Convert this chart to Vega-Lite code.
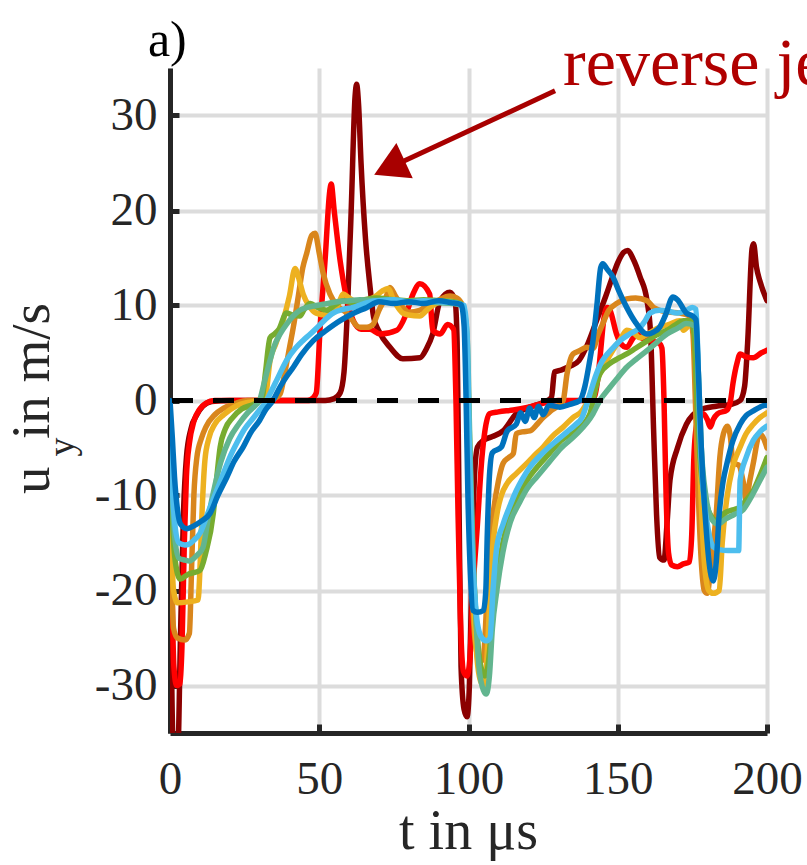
{
  "$schema": "https://vega.github.io/schema/vega-lite/v6.json",
  "width": 597,
  "height": 665,
  "padding": {"left": 170, "top": 68, "right": 40, "bottom": 132},
  "autosize": {"type": "none"},
  "background": "white",
  "config": {"view": {"stroke": null}, "font": "Liberation Serif", "axis": {"labelFont": "Liberation Serif", "titleFont": "Liberation Serif"}},
  "datasets": {
    "curves": [
      {"s":"DR","t":0,"u":-2},{"s":"DR","t":0.6,"u":-30},{"s":"DR","t":1.2,"u":-37},{"s":"DR","t":2.6,"u":-37},{"s":"DR","t":3.5,"u":-25},{"s":"DR","t":4.5,"u":-12},{"s":"DR","t":5.5,"u":-6},{"s":"DR","t":7,"u":-3},{"s":"DR","t":9,"u":-1.5},{"s":"DR","t":11,"u":-0.6},{"s":"DR","t":14,"u":-0.1},{"s":"DR","t":20,"u":0},{"s":"DR","t":52,"u":0},{"s":"DR","t":55,"u":0.2},{"s":"DR","t":57,"u":0.8},{"s":"DR","t":58.3,"u":3},{"s":"DR","t":59.5,"u":10},{"s":"DR","t":60.7,"u":20},{"s":"DR","t":62,"u":32},{"s":"DR","t":62.5,"u":33.3},{"s":"DR","t":63.2,"u":31},{"s":"DR","t":64,"u":25},{"s":"DR","t":65.5,"u":17},{"s":"DR","t":67,"u":12},{"s":"DR","t":68.2,"u":8.8},{"s":"DR","t":70,"u":7.3},{"s":"DR","t":73.7,"u":5.6},{"s":"DR","t":78,"u":4.4},{"s":"DR","t":83.7,"u":4.5},{"s":"DR","t":86,"u":5.5},{"s":"DR","t":88,"u":7},{"s":"DR","t":90.5,"u":10.5},{"s":"DR","t":93.8,"u":11.4},{"s":"DR","t":95.5,"u":10.5},{"s":"DR","t":96.2,"u":6},{"s":"DR","t":96.8,"u":-10},{"s":"DR","t":97.5,"u":-28},{"s":"DR","t":98.5,"u":-32.5},{"s":"DR","t":99.5,"u":-33.3},{"s":"DR","t":100.3,"u":-30},{"s":"DR","t":101,"u":-20},{"s":"DR","t":102,"u":-8},{"s":"DR","t":103,"u":-4.9},{"s":"DR","t":105,"u":-4.2},{"s":"DR","t":108,"u":-3.8},{"s":"DR","t":111.6,"u":-3.2},{"s":"DR","t":116,"u":-1.4},{"s":"DR","t":120.6,"u":-0.7},{"s":"DR","t":125,"u":-0.2},{"s":"DR","t":127.8,"u":0.3},{"s":"DR","t":128.8,"u":3},{"s":"DR","t":131,"u":3.2},{"s":"DR","t":134,"u":3.6},{"s":"DR","t":137,"u":4.2},{"s":"DR","t":140,"u":6},{"s":"DR","t":143,"u":8.5},{"s":"DR","t":146,"u":11},{"s":"DR","t":148,"u":12.8},{"s":"DR","t":150,"u":14.5},{"s":"DR","t":152,"u":15.6},{"s":"DR","t":153.4,"u":15.8},{"s":"DR","t":155,"u":15},{"s":"DR","t":157.5,"u":13},{"s":"DR","t":159.8,"u":10.5},{"s":"DR","t":161,"u":7},{"s":"DR","t":162,"u":-3},{"s":"DR","t":163,"u":-12},{"s":"DR","t":164,"u":-16.5},{"s":"DR","t":165.5,"u":-16.8},{"s":"DR","t":166.5,"u":-13},{"s":"DR","t":167.5,"u":-8.4},{"s":"DR","t":170,"u":-5},{"s":"DR","t":173,"u":-2.5},{"s":"DR","t":177.5,"u":-1},{"s":"DR","t":183,"u":-0.6},{"s":"DR","t":188,"u":-0.4},{"s":"DR","t":191,"u":0},{"s":"DR","t":192.5,"u":1.5},{"s":"DR","t":193.5,"u":6},{"s":"DR","t":195,"u":16},{"s":"DR","t":195.5,"u":16.5},{"s":"DR","t":196.5,"u":14},{"s":"DR","t":197.6,"u":12.6},{"s":"DR","t":200,"u":10.5},

      {"s":"R","t":0,"u":-2},{"s":"R","t":0.7,"u":-20},{"s":"R","t":1.3,"u":-28},{"s":"R","t":2.2,"u":-30},{"s":"R","t":3.4,"u":-29.8},{"s":"R","t":4,"u":-26},{"s":"R","t":4.8,"u":-15},{"s":"R","t":5.5,"u":-8},{"s":"R","t":6.5,"u":-4.5},{"s":"R","t":8,"u":-2.2},{"s":"R","t":10,"u":-0.9},{"s":"R","t":12,"u":-0.3},{"s":"R","t":15,"u":0},{"s":"R","t":46,"u":0},{"s":"R","t":48,"u":0.3},{"s":"R","t":49,"u":0.8},{"s":"R","t":50.3,"u":7.7},{"s":"R","t":52,"u":15},{"s":"R","t":53.5,"u":22},{"s":"R","t":54,"u":22.8},{"s":"R","t":55,"u":20},{"s":"R","t":57,"u":14.7},{"s":"R","t":59,"u":11},{"s":"R","t":61.4,"u":8.4},{"s":"R","t":64,"u":7.5},{"s":"R","t":67,"u":7.5},{"s":"R","t":70.4,"u":7},{"s":"R","t":76,"u":7.4},{"s":"R","t":79,"u":9},{"s":"R","t":81.4,"u":11.2},{"s":"R","t":83.7,"u":12.3},{"s":"R","t":87,"u":11.2},{"s":"R","t":88,"u":7.4},{"s":"R","t":90.5,"u":7},{"s":"R","t":93,"u":8},{"s":"R","t":95,"u":7.5},{"s":"R","t":95.8,"u":0},{"s":"R","t":96.5,"u":-12},{"s":"R","t":97.3,"u":-23},{"s":"R","t":98.3,"u":-28.5},{"s":"R","t":99.5,"u":-29},{"s":"R","t":100.5,"u":-27},{"s":"R","t":101.5,"u":-20},{"s":"R","t":103,"u":-13},{"s":"R","t":104.5,"u":-6},{"s":"R","t":105.5,"u":-3.2},{"s":"R","t":107,"u":-1.4},{"s":"R","t":110,"u":-1.2},{"s":"R","t":115,"u":-1},{"s":"R","t":120,"u":-0.7},{"s":"R","t":125,"u":-0.3},{"s":"R","t":130,"u":0},{"s":"R","t":141,"u":0},{"s":"R","t":142.3,"u":0.5},{"s":"R","t":143.2,"u":2},{"s":"R","t":144.2,"u":5},{"s":"R","t":145.3,"u":8.5},{"s":"R","t":146.5,"u":9.8},{"s":"R","t":147.4,"u":9.5},{"s":"R","t":149.6,"u":7},{"s":"R","t":151,"u":6},{"s":"R","t":153,"u":5.6},{"s":"R","t":155,"u":6.5},{"s":"R","t":156.4,"u":7},{"s":"R","t":158,"u":6.6},{"s":"R","t":160.8,"u":6.3},{"s":"R","t":164,"u":6},{"s":"R","t":164.8,"u":5.5},{"s":"R","t":165.5,"u":0},{"s":"R","t":166.2,"u":-10},{"s":"R","t":167,"u":-16},{"s":"R","t":168,"u":-17.3},{"s":"R","t":170,"u":-17.5},{"s":"R","t":172,"u":-17.2},{"s":"R","t":174,"u":-17},{"s":"R","t":174.8,"u":-14},{"s":"R","t":175.5,"u":-6},{"s":"R","t":176.5,"u":-2.5},{"s":"R","t":178.6,"u":-1.4},{"s":"R","t":180,"u":-2},{"s":"R","t":181,"u":-2.8},{"s":"R","t":182,"u":-2},{"s":"R","t":183.4,"u":-1.4},{"s":"R","t":186.6,"u":-1},{"s":"R","t":187.8,"u":0},{"s":"R","t":188.6,"u":1.8},{"s":"R","t":190,"u":4},{"s":"R","t":191,"u":4.9},{"s":"R","t":193,"u":4.6},{"s":"R","t":195.4,"u":4.5},{"s":"R","t":198,"u":5},{"s":"R","t":200,"u":5.3},

      {"s":"O","t":0,"u":-1},{"s":"O","t":0.6,"u":-18},{"s":"O","t":1.2,"u":-24},{"s":"O","t":2.5,"u":-25},{"s":"O","t":5,"u":-25.2},{"s":"O","t":6.5,"u":-24.5},{"s":"O","t":7.2,"u":-18},{"s":"O","t":8,"u":-10},{"s":"O","t":9,"u":-6},{"s":"O","t":10.5,"u":-4},{"s":"O","t":12,"u":-2.8},{"s":"O","t":15,"u":-1.5},{"s":"O","t":18,"u":-0.8},{"s":"O","t":22,"u":-0.3},{"s":"O","t":26,"u":0},{"s":"O","t":34,"u":0},{"s":"O","t":35.5,"u":0.3},{"s":"O","t":36.9,"u":0.7},{"s":"O","t":38.5,"u":3},{"s":"O","t":40,"u":5.5},{"s":"O","t":41.3,"u":7.7},{"s":"O","t":43,"u":11},{"s":"O","t":44.5,"u":14},{"s":"O","t":45.8,"u":15.5},{"s":"O","t":47.5,"u":17.4},{"s":"O","t":48.6,"u":17.6},{"s":"O","t":50,"u":15.5},{"s":"O","t":51.3,"u":13.4},{"s":"O","t":53.6,"u":11.2},{"s":"O","t":56,"u":10},{"s":"O","t":59.3,"u":9.2},{"s":"O","t":63.6,"u":7.7},{"s":"O","t":66,"u":7.7},{"s":"O","t":68,"u":8},{"s":"O","t":70,"u":9.5},{"s":"O","t":72.5,"u":11},{"s":"O","t":73.7,"u":11.9},{"s":"O","t":75.5,"u":11},{"s":"O","t":78,"u":9.8},{"s":"O","t":80,"u":9.3},{"s":"O","t":83.7,"u":9.5},{"s":"O","t":86,"u":10},{"s":"O","t":89.4,"u":10.5},{"s":"O","t":93.8,"u":11},{"s":"O","t":96,"u":10.8},{"s":"O","t":98,"u":10},{"s":"O","t":99,"u":6},{"s":"O","t":99.8,"u":-5},{"s":"O","t":100.6,"u":-15},{"s":"O","t":101.5,"u":-22},{"s":"O","t":102.5,"u":-26},{"s":"O","t":104,"u":-27.5},{"s":"O","t":105,"u":-27},{"s":"O","t":106,"u":-22},{"s":"O","t":107,"u":-16},{"s":"O","t":108,"u":-12.6},{"s":"O","t":110,"u":-8.5},{"s":"O","t":111.6,"u":-6.6},{"s":"O","t":113.5,"u":-6},{"s":"O","t":115,"u":-5.6},{"s":"O","t":116,"u":-3.5},{"s":"O","t":118,"u":-3.3},{"s":"O","t":120.6,"u":-3.2},{"s":"O","t":123,"u":-2.5},{"s":"O","t":125,"u":-1.8},{"s":"O","t":128,"u":-1},{"s":"O","t":131.7,"u":0},{"s":"O","t":133,"u":2.8},{"s":"O","t":135,"u":4.9},{"s":"O","t":137,"u":5.2},{"s":"O","t":139.6,"u":5.6},{"s":"O","t":141.7,"u":5.5},{"s":"O","t":143.5,"u":7},{"s":"O","t":145,"u":8.1},{"s":"O","t":147,"u":9.5},{"s":"O","t":149.6,"u":10.2},{"s":"O","t":153,"u":10.7},{"s":"O","t":156,"u":10.8},{"s":"O","t":159.8,"u":10.5},{"s":"O","t":162,"u":9.8},{"s":"O","t":164,"u":9.5},{"s":"O","t":167,"u":9.3},{"s":"O","t":170.8,"u":9.2},{"s":"O","t":174,"u":8.9},{"s":"O","t":175.2,"u":7},{"s":"O","t":176,"u":0},{"s":"O","t":177,"u":-10},{"s":"O","t":178,"u":-17},{"s":"O","t":179,"u":-20},{"s":"O","t":180,"u":-20.3},{"s":"O","t":181,"u":-18},{"s":"O","t":182,"u":-15},{"s":"O","t":183,"u":-11.9},{"s":"O","t":184.2,"u":-6},{"s":"O","t":185.4,"u":-3.5},{"s":"O","t":186.7,"u":-2.7},{"s":"O","t":187.8,"u":-4},{"s":"O","t":188.6,"u":-6.6},{"s":"O","t":190.5,"u":-6.8},{"s":"O","t":192,"u":-8.5},{"s":"O","t":193,"u":-10.5},{"s":"O","t":194.2,"u":-8.5},{"s":"O","t":195.4,"u":-6.6},{"s":"O","t":197.6,"u":-3.5},{"s":"O","t":199.5,"u":-4.5},{"s":"O","t":200,"u":-5},

      {"s":"Y","t":0,"u":-1},{"s":"Y","t":0.6,"u":-15},{"s":"Y","t":1.2,"u":-20},{"s":"Y","t":2.5,"u":-21.3},{"s":"Y","t":6,"u":-21.2},{"s":"Y","t":9.4,"u":-21},{"s":"Y","t":10,"u":-18},{"s":"Y","t":10.7,"u":-12},{"s":"Y","t":11.7,"u":-6.3},{"s":"Y","t":13,"u":-4},{"s":"Y","t":15,"u":-2.5},{"s":"Y","t":18,"u":-1.5},{"s":"Y","t":22,"u":-0.6},{"s":"Y","t":26,"u":-0.2},{"s":"Y","t":30,"u":0},{"s":"Y","t":32,"u":0.5},{"s":"Y","t":33.5,"u":4.2},{"s":"Y","t":35.5,"u":6},{"s":"Y","t":37.9,"u":8.4},{"s":"Y","t":40,"u":11},{"s":"Y","t":41.9,"u":13.9},{"s":"Y","t":43,"u":13},{"s":"Y","t":44.6,"u":11.2},{"s":"Y","t":46.5,"u":10},{"s":"Y","t":49,"u":9.2},{"s":"Y","t":52,"u":9},{"s":"Y","t":54.6,"u":9.2},{"s":"Y","t":56.5,"u":10.2},{"s":"Y","t":58,"u":11.2},{"s":"Y","t":60,"u":10.8},{"s":"Y","t":63.6,"u":10.2},{"s":"Y","t":66,"u":10.5},{"s":"Y","t":69,"u":11},{"s":"Y","t":71,"u":11.5},{"s":"Y","t":73,"u":11.8},{"s":"Y","t":75,"u":10.5},{"s":"Y","t":78,"u":9.2},{"s":"Y","t":80,"u":9},{"s":"Y","t":83.7,"u":8.9},{"s":"Y","t":86,"u":9.5},{"s":"Y","t":88,"u":10},{"s":"Y","t":92.8,"u":10.5},{"s":"Y","t":96,"u":10.3},{"s":"Y","t":98,"u":10},{"s":"Y","t":99,"u":7},{"s":"Y","t":99.8,"u":-3},{"s":"Y","t":100.8,"u":-14},{"s":"Y","t":101.8,"u":-22},{"s":"Y","t":102.8,"u":-27},{"s":"Y","t":104,"u":-29.5},{"s":"Y","t":105,"u":-30},{"s":"Y","t":106,"u":-28},{"s":"Y","t":107,"u":-22},{"s":"Y","t":108,"u":-16},{"s":"Y","t":109.5,"u":-12},{"s":"Y","t":111,"u":-10},{"s":"Y","t":113,"u":-8.7},{"s":"Y","t":116,"u":-7.7},{"s":"Y","t":119.6,"u":-6.6},{"s":"Y","t":122,"u":-5.8},{"s":"Y","t":125,"u":-4.9},{"s":"Y","t":128,"u":-3.8},{"s":"Y","t":131.7,"u":-2.8},{"s":"Y","t":135,"u":-1.8},{"s":"Y","t":138,"u":-1.1},{"s":"Y","t":140,"u":0},{"s":"Y","t":141.7,"u":1.4},{"s":"Y","t":144,"u":2.8},{"s":"Y","t":146,"u":4},{"s":"Y","t":148.4,"u":5.3},{"s":"Y","t":151,"u":6.5},{"s":"Y","t":153,"u":7.4},{"s":"Y","t":155,"u":7.2},{"s":"Y","t":157.5,"u":6.6},{"s":"Y","t":160,"u":7},{"s":"Y","t":164,"u":7.7},{"s":"Y","t":167,"u":8},{"s":"Y","t":170.8,"u":8.4},{"s":"Y","t":172,"u":7.4},{"s":"Y","t":173.5,"u":7.8},{"s":"Y","t":175,"u":8.4},{"s":"Y","t":176,"u":7},{"s":"Y","t":177,"u":-2},{"s":"Y","t":178,"u":-11},{"s":"Y","t":179,"u":-17},{"s":"Y","t":180.5,"u":-20},{"s":"Y","t":182,"u":-20.3},{"s":"Y","t":184,"u":-20},{"s":"Y","t":185,"u":-15},{"s":"Y","t":186.6,"u":-10.2},{"s":"Y","t":188.5,"u":-7},{"s":"Y","t":191,"u":-4.9},{"s":"Y","t":193,"u":-3.5},{"s":"Y","t":195.4,"u":-2.5},{"s":"Y","t":197.6,"u":-1.8},{"s":"Y","t":199.5,"u":-1.4},{"s":"Y","t":200,"u":-1.3},

      {"s":"G","t":0,"u":-1},{"s":"G","t":0.8,"u":-12},{"s":"G","t":1.8,"u":-17},{"s":"G","t":3.4,"u":-18.8},{"s":"G","t":6,"u":-18.3},{"s":"G","t":10,"u":-17.9},{"s":"G","t":12,"u":-16},{"s":"G","t":14.5,"u":-11.9},{"s":"G","t":15.7,"u":-8},{"s":"G","t":16.8,"u":-4.9},{"s":"G","t":18.5,"u":-3},{"s":"G","t":21,"u":-1.8},{"s":"G","t":24,"u":-0.9},{"s":"G","t":28,"u":-0.4},{"s":"G","t":30,"u":0},{"s":"G","t":31,"u":0.5},{"s":"G","t":32,"u":3},{"s":"G","t":33.5,"u":6.6},{"s":"G","t":35,"u":7},{"s":"G","t":36.5,"u":7.5},{"s":"G","t":39,"u":9.2},{"s":"G","t":41,"u":9},{"s":"G","t":43.5,"u":8.9},{"s":"G","t":45,"u":9.6},{"s":"G","t":47,"u":10.2},{"s":"G","t":49.5,"u":9.8},{"s":"G","t":52.5,"u":9.5},{"s":"G","t":55,"u":10},{"s":"G","t":58,"u":10.5},{"s":"G","t":61,"u":10.3},{"s":"G","t":63.6,"u":10.5},{"s":"G","t":69,"u":10.8},{"s":"G","t":75,"u":10.6},{"s":"G","t":80,"u":10.5},{"s":"G","t":85,"u":10.6},{"s":"G","t":90,"u":10.5},{"s":"G","t":95,"u":10.4},{"s":"G","t":97.5,"u":10.2},{"s":"G","t":99,"u":8},{"s":"G","t":100,"u":0},{"s":"G","t":101,"u":-12},{"s":"G","t":102,"u":-20},{"s":"G","t":103,"u":-25},{"s":"G","t":104,"u":-27.8},{"s":"G","t":105.5,"u":-29},{"s":"G","t":106.5,"u":-28},{"s":"G","t":108,"u":-23},{"s":"G","t":109.5,"u":-19},{"s":"G","t":111.5,"u":-15},{"s":"G","t":114,"u":-11.9},{"s":"G","t":117,"u":-10},{"s":"G","t":119.6,"u":-8.4},{"s":"G","t":123,"u":-7},{"s":"G","t":127,"u":-5.6},{"s":"G","t":131,"u":-4.2},{"s":"G","t":136,"u":-3.2},{"s":"G","t":140.7,"u":-1.4},{"s":"G","t":141.7,"u":0},{"s":"G","t":144,"u":2.8},{"s":"G","t":147.4,"u":3.9},{"s":"G","t":150,"u":4.4},{"s":"G","t":153,"u":4.9},{"s":"G","t":156,"u":5.5},{"s":"G","t":160,"u":6.3},{"s":"G","t":163,"u":6.9},{"s":"G","t":166.5,"u":7.4},{"s":"G","t":169,"u":7.9},{"s":"G","t":172,"u":8.4},{"s":"G","t":174.5,"u":8.4},{"s":"G","t":175.6,"u":7},{"s":"G","t":176.5,"u":0},{"s":"G","t":177.5,"u":-6},{"s":"G","t":179,"u":-10},{"s":"G","t":181,"u":-12},{"s":"G","t":183,"u":-12.6},{"s":"G","t":186,"u":-11.8},{"s":"G","t":188.6,"u":-11.5},{"s":"G","t":191,"u":-11.2},{"s":"G","t":193,"u":-10.5},{"s":"G","t":195.4,"u":-9.5},{"s":"G","t":197.5,"u":-8},{"s":"G","t":200,"u":-6},

      {"s":"T","t":0,"u":-1},{"s":"T","t":0.8,"u":-10},{"s":"T","t":1.8,"u":-15},{"s":"T","t":3,"u":-16.6},{"s":"T","t":5,"u":-16.8},{"s":"T","t":6.5,"u":-16.9},{"s":"T","t":9,"u":-16.3},{"s":"T","t":11,"u":-15.5},{"s":"T","t":13,"u":-12},{"s":"T","t":15,"u":-9},{"s":"T","t":17,"u":-6.5},{"s":"T","t":20,"u":-4},{"s":"T","t":23,"u":-2.5},{"s":"T","t":26,"u":-1.3},{"s":"T","t":29,"u":-0.4},{"s":"T","t":30,"u":0},{"s":"T","t":31.5,"u":1.8},{"s":"T","t":33.5,"u":4.2},{"s":"T","t":35,"u":5.8},{"s":"T","t":36.9,"u":7},{"s":"T","t":39,"u":8},{"s":"T","t":41,"u":8.8},{"s":"T","t":43.5,"u":9.5},{"s":"T","t":46,"u":9.8},{"s":"T","t":49,"u":10},{"s":"T","t":52.5,"u":10.2},{"s":"T","t":56,"u":10.4},{"s":"T","t":60,"u":10.5},{"s":"T","t":63.6,"u":10.6},{"s":"T","t":70,"u":10.5},{"s":"T","t":75,"u":10.5},{"s":"T","t":80,"u":10.3},{"s":"T","t":85,"u":10.4},{"s":"T","t":90,"u":10.3},{"s":"T","t":95,"u":10.2},{"s":"T","t":98,"u":10},{"s":"T","t":99.5,"u":7},{"s":"T","t":100.5,"u":-5},{"s":"T","t":101.5,"u":-16},{"s":"T","t":102.5,"u":-23},{"s":"T","t":103.5,"u":-28},{"s":"T","t":105,"u":-30.5},{"s":"T","t":106,"u":-30.9},{"s":"T","t":107,"u":-29},{"s":"T","t":108,"u":-24},{"s":"T","t":109.5,"u":-20},{"s":"T","t":111.5,"u":-16},{"s":"T","t":114,"u":-12.8},{"s":"T","t":117,"u":-10.8},{"s":"T","t":119.6,"u":-9.3},{"s":"T","t":123,"u":-8},{"s":"T","t":127,"u":-6.5},{"s":"T","t":131,"u":-5},{"s":"T","t":136,"u":-3.6},{"s":"T","t":141.7,"u":-1.4},{"s":"T","t":144,"u":0},{"s":"T","t":147.4,"u":1.4},{"s":"T","t":150,"u":2.4},{"s":"T","t":153,"u":3.5},{"s":"T","t":156,"u":4.3},{"s":"T","t":160,"u":5.3},{"s":"T","t":163,"u":6.1},{"s":"T","t":166.5,"u":7},{"s":"T","t":170,"u":7.6},{"s":"T","t":173,"u":8.1},{"s":"T","t":176,"u":7.8},{"s":"T","t":177,"u":3},{"s":"T","t":178,"u":-5},{"s":"T","t":179.5,"u":-10},{"s":"T","t":181.5,"u":-12.5},{"s":"T","t":183.5,"u":-13},{"s":"T","t":186,"u":-12.5},{"s":"T","t":189,"u":-12},{"s":"T","t":192,"u":-11.5},{"s":"T","t":195,"u":-10},{"s":"T","t":197.5,"u":-8.5},{"s":"T","t":200,"u":-7},

      {"s":"LB","t":0,"u":-1},{"s":"LB","t":0.8,"u":-9},{"s":"LB","t":1.8,"u":-13.5},{"s":"LB","t":3,"u":-15},{"s":"LB","t":5,"u":-15.2},{"s":"LB","t":6.5,"u":-15.1},{"s":"LB","t":8,"u":-14.7},{"s":"LB","t":10,"u":-14},{"s":"LB","t":12.5,"u":-12},{"s":"LB","t":15,"u":-10},{"s":"LB","t":17.5,"u":-8},{"s":"LB","t":20,"u":-6},{"s":"LB","t":22.5,"u":-4.4},{"s":"LB","t":25,"u":-3},{"s":"LB","t":27.5,"u":-2},{"s":"LB","t":30,"u":-1},{"s":"LB","t":32,"u":-0.2},{"s":"LB","t":33.5,"u":0.7},{"s":"LB","t":36,"u":2.3},{"s":"LB","t":39,"u":4.2},{"s":"LB","t":42,"u":5.5},{"s":"LB","t":44.5,"u":6.3},{"s":"LB","t":47,"u":7},{"s":"LB","t":50,"u":7.9},{"s":"LB","t":54.6,"u":9.2},{"s":"LB","t":58,"u":9.6},{"s":"LB","t":61.4,"u":9.8},{"s":"LB","t":65,"u":10.2},{"s":"LB","t":69,"u":10.5},{"s":"LB","t":75,"u":10.6},{"s":"LB","t":80,"u":10.4},{"s":"LB","t":85,"u":10.5},{"s":"LB","t":90,"u":10.4},{"s":"LB","t":95,"u":10.3},{"s":"LB","t":98.5,"u":10},{"s":"LB","t":99.5,"u":7},{"s":"LB","t":100.3,"u":-5},{"s":"LB","t":101,"u":-14},{"s":"LB","t":102,"u":-20},{"s":"LB","t":103,"u":-23.5},{"s":"LB","t":104.5,"u":-25},{"s":"LB","t":106,"u":-25.3},{"s":"LB","t":107.2,"u":-25},{"s":"LB","t":108.2,"u":-20},{"s":"LB","t":109.5,"u":-15.4},{"s":"LB","t":111.6,"u":-13},{"s":"LB","t":114,"u":-11},{"s":"LB","t":116,"u":-9.5},{"s":"LB","t":118,"u":-8.3},{"s":"LB","t":120.6,"u":-7},{"s":"LB","t":124,"u":-5.8},{"s":"LB","t":127,"u":-4.9},{"s":"LB","t":129.6,"u":-4.2},{"s":"LB","t":133,"u":-3.3},{"s":"LB","t":136,"u":-2.5},{"s":"LB","t":138,"u":-1.8},{"s":"LB","t":139.5,"u":-0.5},{"s":"LB","t":141,"u":1},{"s":"LB","t":142.5,"u":2.5},{"s":"LB","t":144,"u":3.7},{"s":"LB","t":146,"u":4.7},{"s":"LB","t":148,"u":5.4},{"s":"LB","t":150.8,"u":6.3},{"s":"LB","t":154,"u":7},{"s":"LB","t":157.5,"u":7.7},{"s":"LB","t":159,"u":8.3},{"s":"LB","t":160.8,"u":9.2},{"s":"LB","t":164,"u":9.5},{"s":"LB","t":167,"u":9.4},{"s":"LB","t":170,"u":9.2},{"s":"LB","t":173,"u":9.5},{"s":"LB","t":175,"u":9.8},{"s":"LB","t":176.2,"u":9.6},{"s":"LB","t":176.8,"u":5},{"s":"LB","t":177.5,"u":-3},{"s":"LB","t":178.5,"u":-9},{"s":"LB","t":180,"u":-13},{"s":"LB","t":182,"u":-15.4},{"s":"LB","t":184,"u":-15.7},{"s":"LB","t":187,"u":-15.8},{"s":"LB","t":190.5,"u":-15.8},{"s":"LB","t":191,"u":-8.4},{"s":"LB","t":193,"u":-6},{"s":"LB","t":195.4,"u":-4.2},{"s":"LB","t":197.6,"u":-3.3},{"s":"LB","t":199.5,"u":-2.8},{"s":"LB","t":200,"u":-2.7},

      {"s":"B","t":0,"u":0},{"s":"B","t":0.8,"u":-4},{"s":"B","t":1.5,"u":-8},{"s":"B","t":2.5,"u":-11.5},{"s":"B","t":3.5,"u":-13},{"s":"B","t":5.7,"u":-13.5},{"s":"B","t":8,"u":-13.2},{"s":"B","t":10.5,"u":-12.7},{"s":"B","t":13.4,"u":-11.9},{"s":"B","t":16,"u":-10},{"s":"B","t":19,"u":-8.1},{"s":"B","t":21.5,"u":-6.4},{"s":"B","t":24.5,"u":-4.9},{"s":"B","t":27,"u":-3.4},{"s":"B","t":30,"u":-2.1},{"s":"B","t":32,"u":-1},{"s":"B","t":34.5,"u":0},{"s":"B","t":37,"u":1.5},{"s":"B","t":39,"u":2.5},{"s":"B","t":41.3,"u":3.5},{"s":"B","t":44,"u":4.8},{"s":"B","t":48,"u":6.3},{"s":"B","t":52,"u":7.3},{"s":"B","t":57,"u":8.4},{"s":"B","t":61,"u":9.1},{"s":"B","t":66,"u":9.8},{"s":"B","t":70,"u":10.4},{"s":"B","t":75,"u":10.2},{"s":"B","t":80,"u":10.4},{"s":"B","t":85,"u":10.2},{"s":"B","t":90,"u":10.5},{"s":"B","t":94,"u":10.3},{"s":"B","t":97.5,"u":10.1},{"s":"B","t":98.5,"u":8},{"s":"B","t":99.2,"u":0},{"s":"B","t":99.8,"u":-10},{"s":"B","t":100.6,"u":-18},{"s":"B","t":101.5,"u":-22.1},{"s":"B","t":103,"u":-22.3},{"s":"B","t":105,"u":-22.1},{"s":"B","t":105.8,"u":-20},{"s":"B","t":106.3,"u":-14},{"s":"B","t":107,"u":-8},{"s":"B","t":108,"u":-5.5},{"s":"B","t":111,"u":-4.9},{"s":"B","t":113,"u":-3.2},{"s":"B","t":116,"u":-2.5},{"s":"B","t":117.5,"u":-1.3},{"s":"B","t":119,"u":-2.2},{"s":"B","t":120.5,"u":-0.8},{"s":"B","t":122,"u":-1.8},{"s":"B","t":123.5,"u":-0.6},{"s":"B","t":125,"u":-1.5},{"s":"B","t":127,"u":-0.5},{"s":"B","t":130.6,"u":-0.7},{"s":"B","t":134,"u":-0.4},{"s":"B","t":137.3,"u":0},{"s":"B","t":139,"u":1.5},{"s":"B","t":140.5,"u":4},{"s":"B","t":141.7,"u":6.3},{"s":"B","t":143,"u":10},{"s":"B","t":144.3,"u":14},{"s":"B","t":145,"u":14.4},{"s":"B","t":146.5,"u":13.8},{"s":"B","t":148.4,"u":13},{"s":"B","t":150,"u":11.8},{"s":"B","t":153,"u":9.8},{"s":"B","t":156,"u":8.2},{"s":"B","t":159.8,"u":7},{"s":"B","t":162,"u":7.2},{"s":"B","t":164,"u":7.7},{"s":"B","t":166,"u":9},{"s":"B","t":168.5,"u":10.9},{"s":"B","t":170,"u":10.6},{"s":"B","t":173,"u":9.2},{"s":"B","t":175,"u":8.9},{"s":"B","t":176.2,"u":8.5},{"s":"B","t":177,"u":3},{"s":"B","t":178,"u":-5},{"s":"B","t":179.5,"u":-13},{"s":"B","t":181,"u":-18},{"s":"B","t":182,"u":-19},{"s":"B","t":183,"u":-17},{"s":"B","t":184,"u":-11.9},{"s":"B","t":185.3,"u":-8.5},{"s":"B","t":186.6,"u":-6.6},{"s":"B","t":188.5,"u":-4.3},{"s":"B","t":191,"u":-2.5},{"s":"B","t":193,"u":-1.6},{"s":"B","t":195.4,"u":-1.1},{"s":"B","t":197.6,"u":-0.7},{"s":"B","t":199.5,"u":-0.5},{"s":"B","t":200,"u":-0.5}
    ],
    "arrow": [{"t": 129, "u": 32.6, "t2": 73.5, "u2": 24.5}],
    "head": [{"t": 73.5, "u": 24.5}],
    "labels": [
      {"txt": "reverse jet", "t": 131.7, "u": 33.2, "kind": "note"},
      {"txt": "a)", "t": -7.4, "u": 36.3, "kind": "panel"}
    ],
    "sub": [{"txt": "y", "t": -32.2, "u": -4.9}]
  },
  "layer": [
    {
      "data": {"name": "curves"},
      "mark": {"type": "line", "strokeWidth": 5.5, "clip": true, "strokeJoin": "round", "strokeCap": "round", "interpolate": "monotone"},
      "encoding": {
        "x": {
          "field": "t", "type": "quantitative",
          "scale": {"domain": [0, 200], "nice": false, "zero": false},
          "axis": {
            "values": [0, 50, 100, 150, 200],
            "grid": true, "gridColor": "#dcdcdc", "gridWidth": 4,
            "domainColor": "#262626", "domainWidth": 5,
            "tickColor": "#262626", "tickWidth": 5, "tickSize": -9,
            "labelFont": "Liberation Serif", "labelFontSize": 47, "labelColor": "#262626",
            "labelPadding": 32, "labelFlush": false, "labelOverlap": false, "labelBound": false,
            "title": "t in μs", "titleFont": "Liberation Serif", "titleFontSize": 56,
            "titleFontWeight": "normal", "titleColor": "#262626",
            "titleX": 298, "titleY": 115, "titleBaseline": "alphabetic", "titleAlign": "center"
          }
        },
        "y": {
          "field": "u", "type": "quantitative",
          "scale": {"domain": [-35, 35], "nice": false, "zero": false},
          "axis": {
            "values": [-30, -20, -10, 0, 10, 20, 30],
            "labelExpr": "replace(datum.label, '\u2212', '-')",
            "grid": true, "gridColor": "#dcdcdc", "gridWidth": 4,
            "domainColor": "#262626", "domainWidth": 5,
            "tickColor": "#262626", "tickWidth": 5, "tickSize": -9,
            "labelFont": "Liberation Serif", "labelFontSize": 47, "labelColor": "#262626",
            "labelPadding": 22, "labelFlush": false, "labelOverlap": false, "labelBound": false,
            "title": "u\u00a0\u00a0in m/s", "titleFont": "Liberation Serif", "titleFontSize": 55,
            "titleFontWeight": "normal", "titleColor": "#262626",
            "titleX": -122, "titleY": 330, "titleBaseline": "alphabetic", "titleAlign": "center", "titleAngle": 270
          }
        },
        "color": {
          "field": "s", "type": "nominal", "legend": null,
          "scale": {
            "domain": ["DR", "R", "O", "Y", "G", "T", "LB", "B"],
            "range": ["#8B0000", "#FF0000", "#D9861C", "#EDB120", "#77AC30", "#62B58F", "#4DBEEE", "#0072BD"]
          }
        }
      }
    },
    {
      "data": {"values": [{"z": 0}]},
      "mark": {"type": "rule", "color": "#000000", "strokeWidth": 5, "strokeDash": [21, 20]},
      "encoding": {"y": {"field": "z", "type": "quantitative"}}
    },
    {
      "data": {"name": "arrow"},
      "mark": {"type": "rule", "color": "#A80000", "strokeWidth": 5},
      "encoding": {
        "x": {"field": "t", "type": "quantitative"},
        "y": {"field": "u", "type": "quantitative"},
        "x2": {"field": "t2"},
        "y2": {"field": "u2"}
      }
    },
    {
      "data": {"name": "head"},
      "mark": {"type": "point", "shape": "triangle-up", "filled": true, "color": "#A80000", "size": 1500, "angle": 245, "opacity": 1},
      "encoding": {
        "x": {"field": "t", "type": "quantitative"},
        "y": {"field": "u", "type": "quantitative"}
      }
    },
    {
      "data": {"name": "labels"},
      "mark": {"type": "text", "align": "left", "baseline": "alphabetic", "font": "Liberation Serif"},
      "encoding": {
        "x": {"field": "t", "type": "quantitative"},
        "y": {"field": "u", "type": "quantitative"},
        "text": {"field": "txt"},
        "color": {"condition": {"test": "datum.kind === 'note'", "value": "#B00000"}, "value": "#000000"},
        "size": {"condition": {"test": "datum.kind === 'note'", "value": 68}, "value": 50}
      }
    },
    {
      "data": {"name": "sub"},
      "mark": {"type": "text", "align": "center", "baseline": "alphabetic", "font": "Liberation Serif", "fontSize": 38, "angle": 270, "color": "#262626"},
      "encoding": {
        "x": {"field": "t", "type": "quantitative"},
        "y": {"field": "u", "type": "quantitative"},
        "text": {"field": "txt"}
      }
    }
  ]
}
